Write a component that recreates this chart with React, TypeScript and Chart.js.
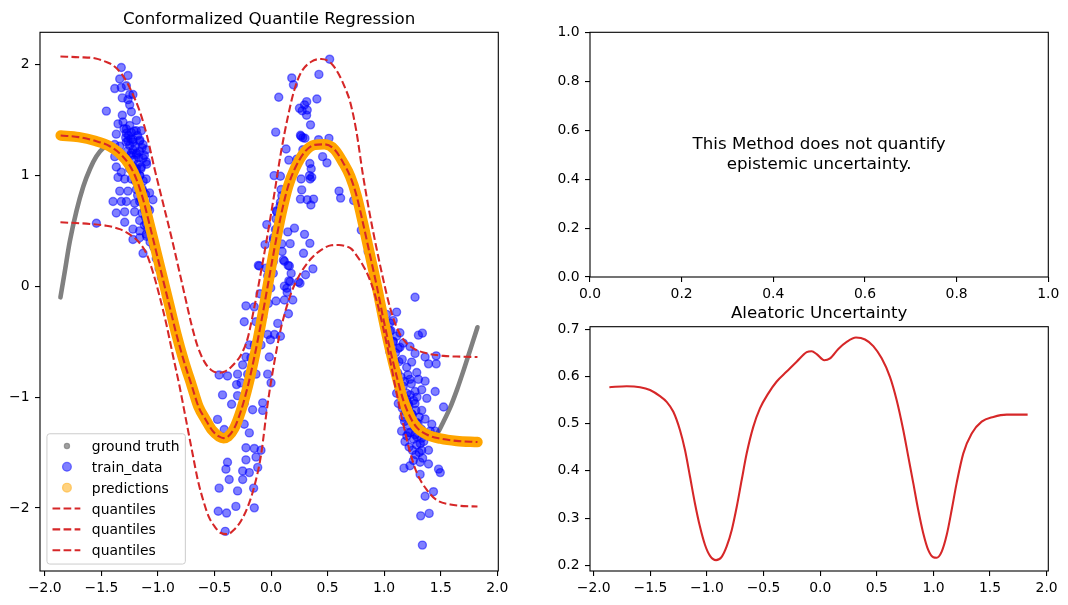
import React, { useEffect, useRef } from 'react';
import { Chart, registerables } from 'chart.js';

Chart.register(...registerables);

const FONT = '"DejaVu Sans", "Liberation Sans", sans-serif';
const TICK_PX = 13.9;
const TITLE_PX = 16.67;
const RED = '#d62728';
const ORANGE = '#ffa500';
const DASH = [7.7, 3.35];

// ---- left panel: ground truth, training samples, median prediction, quantile bands ----
const groundTruth: [number, number][] = [
  [-1.862, -0.1], [-1.824, 0.13], [-1.78, 0.4], [-1.72, 0.68], [-1.66, 0.9], [-1.6, 1.06],
  [-1.545, 1.17], [-1.485, 1.245], [-1.43, 1.27], [-1.34, 1.205], [-1.25, 1.09], [-1.19, 0.965],
  [-1.13, 0.78], [-1.075, 0.56], [-1.015, 0.31], [-0.955, 0.06], [-0.895, -0.19], [-0.835, -0.44],
  [-0.775, -0.66], [-0.7, -0.9], [-0.64, -1.09], [-0.58, -1.21], [-0.52, -1.31], [-0.46, -1.36],
  [-0.42, -1.375], [-0.38, -1.355], [-0.325, -1.28], [-0.265, -1.12], [-0.205, -0.9], [-0.15, -0.65],
  [-0.09, -0.34], [-0.03, 0.0], [0.03, 0.34], [0.09, 0.65], [0.15, 0.9], [0.21, 1.06], [0.3, 1.215],
  [0.385, 1.285], [0.47, 1.295], [0.56, 1.24], [0.64, 1.11], [0.7, 0.99], [0.755, 0.82], [0.815, 0.56],
  [0.875, 0.28], [0.935, 0.0], [0.99, -0.28], [1.05, -0.56], [1.11, -0.81], [1.17, -1.03], [1.23, -1.19],
  [1.29, -1.29], [1.35, -1.35], [1.42, -1.37], [1.48, -1.31], [1.525, -1.22], [1.585, -1.09],
  [1.645, -0.93], [1.705, -0.75], [1.765, -0.56], [1.825, -0.37],
];

const predictions: [number, number][] = [
  [-1.86, 1.36], [-1.7, 1.345], [-1.55, 1.31], [-1.43, 1.265], [-1.34, 1.2], [-1.25, 1.09],
  [-1.19, 0.965], [-1.13, 0.78], [-1.075, 0.56], [-1.015, 0.31], [-0.955, 0.06], [-0.895, -0.19],
  [-0.835, -0.44], [-0.775, -0.66], [-0.7, -0.9], [-0.64, -1.09], [-0.58, -1.2], [-0.52, -1.3],
  [-0.46, -1.355], [-0.42, -1.37], [-0.38, -1.355], [-0.325, -1.28], [-0.265, -1.12], [-0.205, -0.9],
  [-0.15, -0.65], [-0.09, -0.34], [-0.03, 0.0], [0.03, 0.34], [0.09, 0.65], [0.15, 0.9], [0.21, 1.06],
  [0.3, 1.215], [0.385, 1.275], [0.47, 1.28], [0.56, 1.235], [0.64, 1.11], [0.7, 0.99], [0.755, 0.82],
  [0.815, 0.56], [0.875, 0.28], [0.935, 0.0], [0.99, -0.28], [1.05, -0.56], [1.11, -0.81],
  [1.17, -1.03], [1.23, -1.18], [1.29, -1.275], [1.38, -1.34], [1.5, -1.375], [1.64, -1.395],
  [1.825, -1.405],
];

const upperQuantile: [number, number][] = [
  [-1.862, 2.072], [-1.7, 2.066], [-1.55, 2.055], [-1.45, 2.02], [-1.4, 1.995], [-1.31, 1.9],
  [-1.235, 1.76], [-1.16, 1.575], [-1.1, 1.37], [-1.03, 1.06], [-0.955, 0.75], [-0.88, 0.44],
  [-0.81, 0.13], [-0.75, -0.14], [-0.7, -0.36], [-0.65, -0.54], [-0.59, -0.68], [-0.53, -0.755],
  [-0.46, -0.78], [-0.4, -0.765], [-0.355, -0.73], [-0.3, -0.67], [-0.266, -0.62], [-0.207, -0.47],
  [-0.148, -0.19], [-0.089, 0.13], [-0.03, 0.47], [0.03, 0.84], [0.089, 1.215], [0.148, 1.525],
  [0.207, 1.775], [0.266, 1.93], [0.355, 2.025], [0.444, 2.05], [0.533, 2.01], [0.6, 1.91],
  [0.65, 1.8], [0.7, 1.66], [0.754, 1.4], [0.813, 1.0], [0.872, 0.655], [0.932, 0.345],
  [0.991, 0.065], [1.05, -0.185], [1.11, -0.37], [1.169, -0.48], [1.258, -0.56], [1.377, -0.605],
  [1.525, -0.628], [1.674, -0.635], [1.825, -0.638],
];

const lowerQuantile: [number, number][] = [
  [-1.862, 0.577], [-1.6, 0.562], [-1.456, 0.546], [-1.338, 0.515], [-1.25, 0.468], [-1.162, 0.39],
  [-1.103, 0.297], [-1.044, 0.126], [-0.985, -0.092], [-0.926, -0.341], [-0.868, -0.622],
  [-0.809, -0.902], [-0.75, -1.214], [-0.691, -1.525], [-0.647, -1.75], [-0.6, -1.93], [-0.55, -2.08],
  [-0.5, -2.165], [-0.444, -2.226], [-0.385, -2.236], [-0.325, -2.195], [-0.266, -2.117],
  [-0.207, -1.992], [-0.148, -1.806], [-0.089, -1.525], [-0.03, -1.06], [0.03, -0.68], [0.089, -0.373],
  [0.178, -0.061], [0.266, 0.126], [0.355, 0.25], [0.444, 0.328], [0.533, 0.369], [0.6, 0.372],
  [0.66, 0.36], [0.71, 0.337], [0.754, 0.281], [0.813, 0.188], [0.872, 0.063], [0.932, -0.124],
  [0.991, -0.373], [1.05, -0.653], [1.11, -0.965], [1.169, -1.245], [1.228, -1.494], [1.288, -1.681],
  [1.377, -1.837], [1.466, -1.93], [1.585, -1.968], [1.704, -1.983], [1.825, -1.986],
];

const trainLeft: [number, number][] = [
  [-1.324, 1.973], [-1.265, 1.901], [-1.338, 1.87], [-1.382, 1.783], [-1.324, 1.792], [-1.279, 1.808],
  [-1.25, 1.73], [-1.221, 1.73], [-1.315, 1.699], [-1.265, 1.683], [-1.25, 1.636], [-1.235, 1.574],
  [-1.456, 1.58], [-1.315, 1.543], [-1.191, 1.496], [-1.309, 1.481], [-1.353, 1.465], [-1.279, 1.418],
  [-1.235, 1.387], [-1.191, 1.403], [-1.147, 1.403], [-1.285, 1.34], [-1.368, 1.372], [-1.382, 1.278],
  [-1.338, 1.263], [-1.265, 1.309], [-1.221, 1.325], [-1.162, 1.309], [-1.132, 1.278], [-1.103, 1.231],
  [-1.382, 1.169], [-1.324, 1.185], [-1.279, 1.154], [-1.235, 1.2], [-1.191, 1.185], [-1.162, 1.216],
  [-1.132, 1.154], [-1.103, 1.122], [-1.368, 1.076], [-1.324, 1.029], [-1.25, 1.06], [-1.191, 1.06],
  [-1.147, 1.076], [-1.353, 0.982], [-1.294, 0.967], [-1.235, 0.967], [-1.162, 0.998], [-1.103, 0.967],
  [-1.338, 0.858], [-1.265, 0.858], [-1.191, 0.873], [-1.132, 0.858], [-1.074, 0.842], [-1.397, 0.764],
  [-1.324, 0.764], [-1.279, 0.764], [-1.206, 0.749], [-1.162, 0.764], [-1.044, 0.78], [-1.368, 0.661],
  [-1.294, 0.671], [-1.206, 0.671], [-1.118, 0.686], [-1.074, 0.686], [-1.294, 0.577], [-1.162, 0.593],
  [-1.103, 0.562], [-1.544, 0.568], [-1.221, 0.515], [-1.162, 0.499], [-1.103, 0.468], [-1.221, 0.422],
  [-1.162, 0.437], [-1.132, 0.297], [-1.029, 0.344], [-1.015, 0.25], [-0.99, 0.16], [-0.97, 0.08],
  [-1.3, 1.42], [-1.28, 1.38], [-1.26, 1.36], [-1.24, 1.33], [-1.22, 1.3], [-1.2, 1.26], [-1.28, 1.3],
  [-1.25, 1.27], [-1.22, 1.23], [-1.19, 1.2], [-1.17, 1.16], [-1.27, 1.22], [-1.24, 1.18], [-1.21, 1.14],
  [-1.18, 1.1], [-1.15, 1.06], [-1.22, 1.08], [-1.19, 1.03], [-1.16, 1.0], [-1.13, 0.95], [-1.2, 0.95],
  [-1.17, 0.91], [-1.14, 0.88], [-1.11, 0.83], [-1.18, 0.82], [-1.15, 0.78], [-1.12, 0.74], [-1.09, 0.7],
  [-1.14, 0.66], [-1.11, 0.62], [-1.08, 0.58], [-1.12, 0.55], [-1.09, 0.52], [-1.06, 0.48], [-1.1, 0.45],
  [-1.07, 0.4], [-1.04, 0.36], [-1.25, 1.45], [-1.21, 1.4], [-1.18, 1.36], [-1.16, 1.32], [-1.14, 1.25],
  [-1.12, 1.18], [-1.1, 1.1],
];

const trainMiddle: [number, number][] = [
  [0.518, 2.048], [0.183, 1.879], [0.198, 1.817], [0.423, 1.911], [0.068, 1.705], [0.405, 1.689],
  [0.251, 1.605], [0.296, 1.636], [0.32, 1.59], [0.275, 1.583], [0.314, 1.543], [0.349, 1.456],
  [0.041, 1.39], [0.26, 1.362], [0.281, 1.34], [0.42, 1.322], [0.512, 1.334], [0.133, 1.238],
  [0.281, 1.231], [0.157, 1.138], [0.228, 1.147], [0.343, 1.107], [0.456, 1.169], [0.494, 1.113],
  [0.027, 0.998], [0.083, 0.992], [0.172, 0.967], [0.266, 0.967], [0.355, 1.06], [0.34, 0.998],
  [0.346, 0.967], [0.601, 0.858], [0.615, 0.795], [0.089, 0.873], [0.095, 0.817], [0.083, 0.758],
  [0.047, 0.68], [0.26, 0.786], [0.32, 0.78], [0.376, 0.786], [0.352, 0.733], [0.044, 0.608],
  [0.068, 0.584], [-0.038, 0.556], [0.038, 0.512], [0.207, 0.524], [0.148, 0.49], [0.021, 0.437],
  [-0.053, 0.375], [0.169, 0.384], [0.296, 0.468], [0.343, 0.387], [0.098, 0.313], [0.287, 0.297],
  [-0.112, 0.188], [-0.044, 0.163], [0.118, 0.225], [0.151, 0.188], [0.37, 0.157], [0.305, 0.104],
  [0.178, 0.116], [-0.03, 0.095], [0.157, 0.048], [0.118, 0.001], [0.243, 0.039], [0.142, -0.055],
  [-0.003, -0.015], [-0.098, -0.068], [0.044, -0.133], [0.118, -0.124], [0.192, -0.124],
  [-0.024, -0.155], [0.154, -0.248], [-0.222, -0.177], [-0.148, -0.186], [-0.237, -0.32],
  [-0.133, -0.32], [-0.074, -0.279], [0.059, -0.335], [0.03, -0.435], [0.083, -0.451], [-0.03, -0.435],
  [-0.006, -0.482], [-0.192, -0.529], [-0.148, -0.529], [-0.089, -0.529], [-0.222, -0.638],
  [-0.178, -0.644], [-0.015, -0.638], [-0.251, -0.709], [-0.207, -0.793], [-0.133, -0.793],
  [-0.03, -0.793], [-0.459, -0.8], [-0.385, -0.809], [-0.296, -0.793], [-0.305, -0.887],
  [-0.266, -0.871], [0.0, -0.871], [-0.429, -0.98], [-0.349, -1.064], [-0.296, -0.987],
  [-0.237, -1.058], [-0.074, -1.052], [-0.163, -1.114], [-0.074, -1.12], [-0.473, -1.201],
  [-0.414, -1.292], [-0.237, -1.245], [-0.192, -1.323], [-0.222, -1.457], [-0.148, -1.463],
  [-0.089, -1.479], [-0.222, -1.566], [-0.133, -1.541], [-0.385, -1.588], [-0.399, -1.65],
  [-0.251, -1.666], [-0.118, -1.634], [-0.192, -1.681], [-0.37, -1.743], [-0.251, -1.743],
  [-0.459, -1.821], [-0.296, -1.846], [-0.154, -1.821], [-0.311, -1.986], [-0.148, -1.999],
  [-0.467, -2.03], [-0.393, -2.046], [-0.405, -2.211], [0.315, 1.665], [0.265, 1.353], [0.3, 1.335],
  [0.36, 0.983], [0.271, 0.869], [0.05, 0.673], [0.079, 0.724], [0.05, 0.508], [0.02, 0.418],
  [0.094, 0.382], [-0.104, 0.183], [0.02, 0.222], [0.109, 0.237], [0.162, 0.183], [0.168, 0.042],
  [0.256, 0.027], [0.02, 0.117], [0.139, -0.018],
];

const trainRight: [number, number][] = [
  [0.73, 0.773], [0.798, 0.506], [0.858, 0.313], [0.932, 0.001], [1.273, -0.099], [1.303, -0.441],
  [1.338, -0.423], [1.11, -0.233], [1.021, -0.254], [1.139, -0.42], [1.169, -0.513], [1.228, -0.544],
  [1.273, -0.606], [1.362, -0.638], [1.46, -0.628], [1.392, -0.7], [1.46, -0.7], [1.243, -0.684],
  [1.199, -0.731], [1.095, -0.684], [1.288, -0.778], [1.303, -0.84], [1.362, -0.856], [1.228, -0.84],
  [1.169, -0.902], [1.11, -0.965], [1.199, -0.965], [1.273, -0.949], [1.332, -0.934], [1.377, -1.011],
  [1.451, -0.949], [1.525, -1.089], [1.125, -1.058], [1.214, -1.058], [1.273, -1.058], [1.332, -1.12],
  [1.169, -1.182], [1.243, -1.151], [1.288, -1.229], [1.362, -1.198], [1.421, -1.245], [1.154, -1.307],
  [1.214, -1.323], [1.273, -1.338], [1.332, -1.37], [1.407, -1.307], [1.451, -1.307], [1.288, -1.432],
  [1.332, -1.479], [1.392, -1.479], [1.184, -1.401], [1.258, -1.572], [1.318, -1.588], [1.392, -1.603],
  [1.481, -1.65], [1.496, -1.681], [1.175, -1.641], [1.228, -1.619], [1.318, -1.697], [1.436, -1.853],
  [1.362, -1.894], [1.323, -2.071], [1.398, -2.049], [1.338, -2.335],
  [1.12, -0.78], [1.15, -0.82], [1.18, -0.86], [1.21, -0.8], [1.24, -0.88], [1.14, -0.95], [1.17, -0.99],
  [1.2, -1.02], [1.23, -0.98], [1.26, -1.03], [1.29, -1.0], [1.16, -1.1], [1.19, -1.13], [1.22, -1.08],
  [1.25, -1.16], [1.28, -1.12], [1.31, -1.18], [1.18, -1.22], [1.21, -1.25], [1.24, -1.21], [1.27, -1.27],
  [1.3, -1.24], [1.33, -1.29], [1.2, -1.35], [1.23, -1.32], [1.26, -1.38], [1.29, -1.36], [1.32, -1.42],
  [1.35, -1.4], [1.22, -1.45], [1.25, -1.48], [1.28, -1.52], [1.31, -1.5], [1.34, -1.55], [1.13, -0.68],
  [1.16, -0.66], [1.1, -0.6], [1.08, -0.5], [1.06, -0.4], [1.05, -0.33], [1.11, -0.45], [1.14, -0.55],
  [1.08, -0.31], [1.05, -0.404], [1.08, -0.497], [1.125, -0.56], [1.05, -0.591],
];

// ---- bottom-right panel: aleatoric uncertainty curve ----
const aleatoric: [number, number][] = [
  [-1.862, 0.577], [-1.709, 0.579], [-1.591, 0.577], [-1.503, 0.571], [-1.415, 0.558], [-1.356, 0.546],
  [-1.297, 0.525], [-1.238, 0.486], [-1.194, 0.444], [-1.15, 0.388], [-1.106, 0.331], [-1.062, 0.282],
  [-1.017, 0.243], [-0.973, 0.22], [-0.92, 0.211], [-0.87, 0.218], [-0.826, 0.24], [-0.781, 0.275],
  [-0.737, 0.324], [-0.693, 0.381], [-0.649, 0.437], [-0.591, 0.493], [-0.532, 0.532], [-0.458, 0.564],
  [-0.384, 0.589], [-0.296, 0.61], [-0.208, 0.631], [-0.119, 0.651], [-0.075, 0.653], [-0.031, 0.647],
  [0.036, 0.634], [0.087, 0.638], [0.16, 0.658], [0.234, 0.673], [0.316, 0.682], [0.396, 0.678],
  [0.469, 0.664], [0.543, 0.638], [0.616, 0.599], [0.675, 0.55], [0.734, 0.486], [0.778, 0.43],
  [0.822, 0.374], [0.866, 0.317], [0.91, 0.268], [0.955, 0.232], [0.999, 0.217], [1.028, 0.216],
  [1.073, 0.229], [1.117, 0.264], [1.161, 0.317], [1.205, 0.374], [1.264, 0.437], [1.338, 0.479],
  [1.426, 0.504], [1.529, 0.514], [1.647, 0.519], [1.832, 0.519],
];

// ---- axis ticks and limits ----
const mainXTicks = [-2, -1.5, -1, -0.5, 0, 0.5, 1, 1.5, 2];
const mainYTicks = [-2, -1, 0, 1, 2];
const unitTicks = [0, 0.2, 0.4, 0.6, 0.8, 1];
const aleaXTicks = [-2, -1.5, -1, -0.5, 0, 0.5, 1, 1.5, 2];
const aleaYTicks = [0.2, 0.3, 0.4, 0.5, 0.6, 0.7];
const mainXRange = [-2.0427, 2.0091];
const mainYRange = [-2.5685, 2.2906];
const aleaXRange = [-2.033, 2.0145];
const aleaYRange = [0.188, 0.705];

const noteLines = ['This Method does not quantify', 'epistemic uncertainty.'];

type LegendItem = { label: string; kind: 'dot' | 'dash'; color: string; r?: number };
const legendItems: LegendItem[] = [
  { label: 'ground truth', kind: 'dot', color: 'rgba(128,128,128,0.75)', r: 2.6 },
  { label: 'train_data', kind: 'dot', color: 'rgba(0,0,255,0.5)', r: 4.4 },
  { label: 'predictions', kind: 'dot', color: 'rgba(255,165,0,0.5)', r: 4.4 },
  { label: 'quantiles', kind: 'dash', color: RED },
  { label: 'quantiles', kind: 'dash', color: RED },
  { label: 'quantiles', kind: 'dash', color: RED },
];

const toXY = (pts: [number, number][]) => pts.map(([x, y]) => ({ x, y }));
const signed = (v: number, digits: number) => (v < 0 ? '\u2212' : '') + Math.abs(v).toFixed(digits);

function axis(range: number[], ticks: number[], digits: number, isX: boolean, size: number, pad: number) {
  return {
    type: 'linear',
    min: range[0],
    max: range[1],
    afterBuildTicks: (scale: any) => {
      scale.ticks = ticks.map((value) => ({ value }));
    },
    afterFit: (scale: any) => {
      if (isX) scale.height = size;
      else scale.width = size;
    },
    grid: { display: true, drawOnChartArea: false, drawTicks: true, tickLength: 5, color: '#000', lineWidth: 1.1 },
    border: { display: false },
    ticks: {
      autoSkip: false,
      maxRotation: 0,
      minRotation: 0,
      padding: pad,
      color: '#000',
      font: { family: FONT, size: TICK_PX },
      callback: (v: any) => signed(Number(v), digits),
    },
  };
}

function drawLegend(ctx: CanvasRenderingContext2D, a: any) {
  const x0 = a.left + 6.95;
  const w = 138.4;
  const h = 130.3;
  const y0 = a.bottom - 6.95 - h;
  ctx.beginPath();
  ctx.roundRect(x0, y0, w, h, 2.8);
  ctx.fillStyle = 'rgba(255,255,255,0.8)';
  ctx.fill();
  ctx.strokeStyle = '#cccccc';
  ctx.lineWidth = 1;
  ctx.stroke();
  ctx.font = `${TICK_PX}px ${FONT}`;
  ctx.textAlign = 'left';
  ctx.textBaseline = 'alphabetic';
  legendItems.forEach((item, i) => {
    const cy = y0 + 12.2 + i * 20.85;
    if (item.kind === 'dot') {
      ctx.beginPath();
      ctx.arc(x0 + 20, cy, item.r || 4, 0, Math.PI * 2);
      ctx.fillStyle = item.color;
      ctx.fill();
      ctx.strokeStyle = item.color;
      ctx.lineWidth = 1.2;
      ctx.stroke();
    } else {
      ctx.save();
      ctx.beginPath();
      ctx.setLineDash(DASH);
      ctx.strokeStyle = item.color;
      ctx.lineWidth = 2.08;
      ctx.moveTo(x0 + 5.56, cy);
      ctx.lineTo(x0 + 33.4, cy);
      ctx.stroke();
      ctx.restore();
    }
    ctx.fillStyle = '#000';
    ctx.fillText(item.label, x0 + 44.9, cy + 5.1);
  });
}

const panelPlugin = {
  id: 'panel',
  afterDraw(chart: any, _args: any, opts: any) {
    const { ctx, chartArea: a } = chart;
    ctx.save();
    ctx.strokeStyle = '#000';
    ctx.lineWidth = 1.1;
    ctx.strokeRect(a.left, a.top, a.right - a.left, a.bottom - a.top);
    ctx.fillStyle = '#000';
    ctx.textAlign = 'center';
    ctx.textBaseline = 'alphabetic';
    const cx = (a.left + a.right) / 2;
    if (opts.title) {
      ctx.font = `${TITLE_PX}px ${FONT}`;
      ctx.fillText(opts.title, cx, a.top - 8.33);
    }
    if (opts.note) {
      ctx.font = `${TITLE_PX}px ${FONT}`;
      const cy = (a.top + a.bottom) / 2;
      noteLines.forEach((line, i) => ctx.fillText(line, cx, cy - 5.5 + i * 20));
    }
    if (opts.legend) drawLegend(ctx, a);
    ctx.restore();
  },
};

const baseOptions = {
  animation: false,
  responsive: false,
  maintainAspectRatio: false,
  events: [],
};

function mainConfig(): any {
  const curve = (data: [number, number][], color: string, width: number, order: number, dash?: number[]) => ({
    data: toXY(data),
    showLine: true,
    borderColor: color,
    borderWidth: width,
    borderDash: dash || [],
    borderCapStyle: dash ? 'butt' : 'round',
    borderJoinStyle: 'round',
    pointRadius: 0,
    cubicInterpolationMode: 'monotone',
    order,
  });
  return {
    type: 'scatter',
    data: {
      datasets: [
        { label: 'ground truth', ...curve(groundTruth, '#808080', 4.6, 10) },
        {
          label: 'train_data',
          data: toXY([...trainLeft, ...trainMiddle, ...trainRight]),
          pointRadius: 4,
          pointBackgroundColor: 'rgba(0,0,255,0.5)',
          pointBorderColor: 'rgba(0,0,255,0.5)',
          pointBorderWidth: 1.4,
          order: 9,
        },
        { label: 'predictions', ...curve(predictions, ORANGE, 10.5, 8) },
        { label: 'quantiles', ...curve(upperQuantile, RED, 2.08, 3, DASH) },
        { label: 'quantiles', ...curve(predictions, RED, 2.08, 2, DASH) },
        { label: 'quantiles', ...curve(lowerQuantile, RED, 2.08, 1, DASH) },
      ],
    },
    options: {
      ...baseOptions,
      layout: { padding: { left: 0, top: 32.3, right: 21.7, bottom: 0 } },
      scales: {
        x: axis(mainXRange, mainXTicks, 1, true, 34, 4),
        y: axis(mainYRange, mainYTicks, 0, false, 40, 5.5),
      },
      plugins: {
        legend: { display: false },
        tooltip: { enabled: false },
        panel: { title: 'Conformalized Quantile Regression', legend: true },
      },
    },
    plugins: [panelPlugin],
  };
}

function epistemicConfig(): any {
  return {
    type: 'scatter',
    data: { datasets: [] },
    options: {
      ...baseOptions,
      layout: { padding: { left: 0, top: 32.3, right: 19.7, bottom: 0 } },
      scales: {
        x: axis([0, 1], unitTicks, 1, true, 28, 4),
        y: axis([0, 1], unitTicks, 1, false, 70, 5.5),
      },
      plugins: {
        legend: { display: false },
        tooltip: { enabled: false },
        panel: { note: true },
      },
    },
    plugins: [panelPlugin],
  };
}

function aleatoricConfig(): any {
  return {
    type: 'scatter',
    data: {
      datasets: [
        {
          label: 'aleatoric',
          data: toXY(aleatoric),
          showLine: true,
          borderColor: RED,
          borderWidth: 2.08,
          pointRadius: 0,
          cubicInterpolationMode: 'monotone',
        },
      ],
    },
    options: {
      ...baseOptions,
      layout: { padding: { left: 0, top: 36.7, right: 19.7, bottom: 0 } },
      scales: {
        x: axis(aleaXRange, aleaXTicks, 1, true, 34, 4),
        y: axis(aleaYRange, aleaYTicks, 1, false, 70, 5.5),
      },
      plugins: {
        legend: { display: false },
        tooltip: { enabled: false },
        panel: { title: 'Aleatoric Uncertainty' },
      },
    },
    plugins: [panelPlugin],
  };
}

function Panel(props: { left: number; top: number; width: number; height: number; make: () => any }) {
  const ref = useRef<HTMLCanvasElement>(null);
  useEffect(() => {
    const chart = new Chart(ref.current as HTMLCanvasElement, props.make());
    return () => chart.destroy();
  }, []);
  return (
    <canvas
      ref={ref}
      width={props.width}
      height={props.height}
      style={{ position: 'absolute', left: props.left, top: props.top, width: props.width, height: props.height }}
    />
  );
}

export default function App() {
  return (
    <div style={{ position: 'absolute', left: 0, top: 0, width: 1068, height: 605, background: '#fff', overflow: 'hidden' }}>
      <Panel left={0} top={0} width={520} height={605} make={mainConfig} />
      <Panel left={520} top={0} width={548} height={305} make={epistemicConfig} />
      <Panel left={520} top={290} width={548} height={315} make={aleatoricConfig} />
    </div>
  );
}
